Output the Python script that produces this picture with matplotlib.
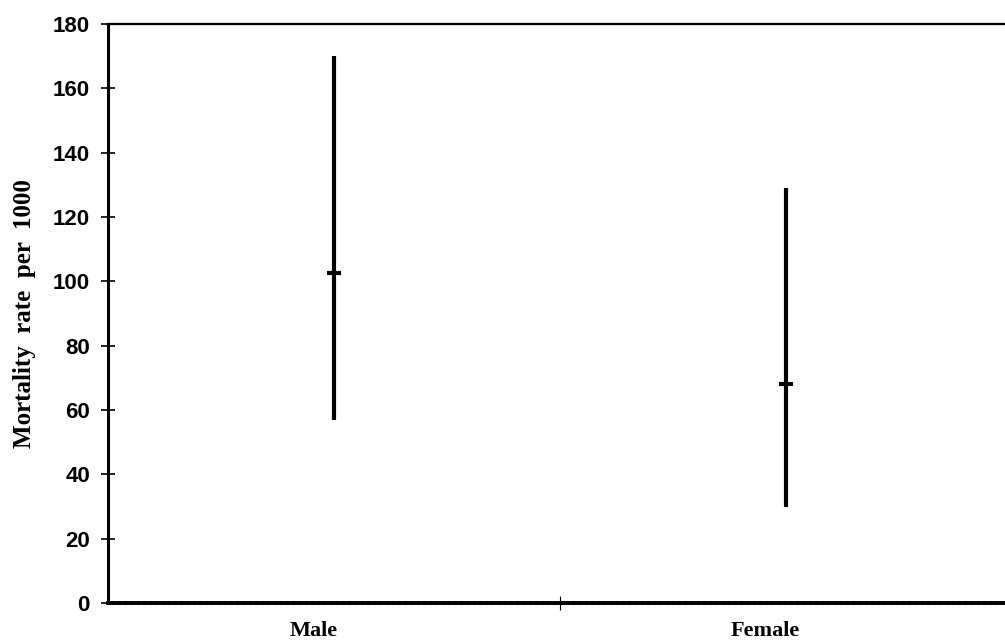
import matplotlib.pyplot as plt

# Mortality rate per 1000 with range, by sex
groups = ["Male", "Female"]
lower = [57, 30]
upper = [170, 129]
mean = [102.5, 68]
y_ticks = [0, 20, 40, 60, 80, 100, 120, 140, 160, 180]


def main():
    fig = plt.figure(figsize=(10.05, 6.42), dpi=100)
    ax = fig.add_axes([0.1075, 0.0607, 0.8995, 0.9019])

    x = [i + 0.5 for i in range(len(groups))]
    ax.vlines(x, lower, upper, color="black", lw=3)
    ax.plot(x, mean, ls="none", marker="_", ms=10.5, mew=3, color="black")

    ax.set_xlim(0, 2)
    ax.set_ylim(0, 180)
    ax.set_yticks(y_ticks)
    ax.tick_params(axis="y", direction="inout", length=10, width=1.2,
                   labelsize=16, pad=8)
    for t in ax.get_yticklabels():
        t.set_fontweight("bold")
        t.set_family("Liberation Sans")

    # single boundary tick between the categories, labels just left of centre
    ax.set_xticks([1.0])
    ax.set_xticklabels([""])
    ax.tick_params(axis="x", which="major", direction="inout", length=10, width=0.8)
    ax.set_xticks([p - 0.045 for p in x], minor=True)
    ax.set_xticklabels(groups, minor=True, family="Liberation Serif",
                       fontweight="bold", fontsize=16)
    ax.tick_params(axis="x", which="minor", length=0, pad=13)

    ax.set_ylabel("Mortality  rate  per  1000", family="Liberation Serif",
                  fontweight="bold", fontsize=18, labelpad=12)

    ax.spines["right"].set_visible(False)
    ax.spines["left"].set_linewidth(2.2)
    ax.spines["bottom"].set_linewidth(2.8)
    ax.spines["bottom"].set_linestyle((0, (1.2, 0.4)))
    ax.spines["top"].set_linewidth(1.6)
    ax.spines["top"].set_linestyle((0, (1.0, 0.6)))

    fig.savefig("out.png", dpi=100)


if __name__ == "__main__":
    main()
